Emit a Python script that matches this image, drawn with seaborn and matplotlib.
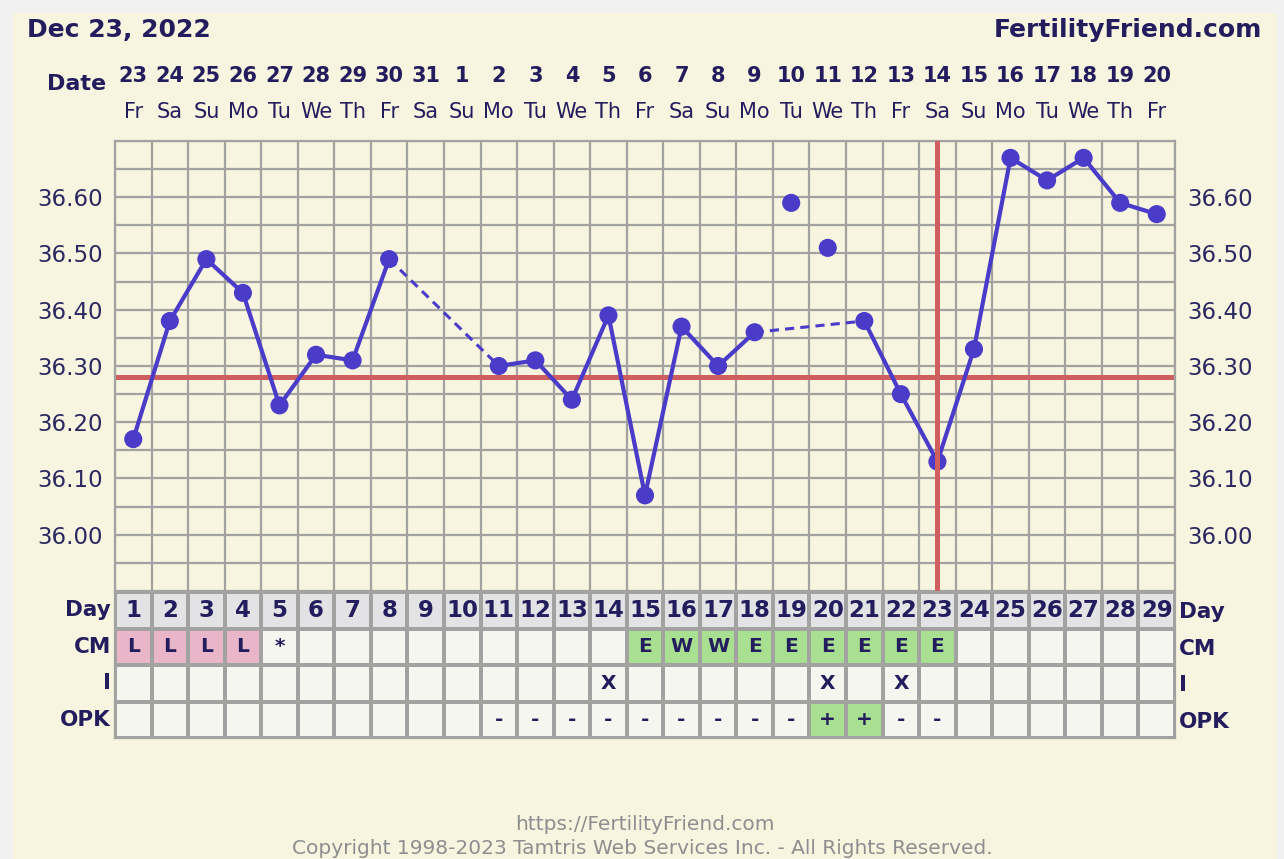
import numpy as np
import pandas as pd
import matplotlib
matplotlib.use("Agg")
import matplotlib.pyplot as plt
from matplotlib.colors import ListedColormap
from matplotlib.patches import Rectangle
from matplotlib.ticker import MultipleLocator, FixedLocator
import seaborn as sns

plt.rcParams['font.family'] = ['DejaVu Sans']

# ---- chart data ----
days = list(range(1, 30))
temps = [36.17, 36.38, 36.49, 36.43, 36.23, 36.32, 36.31, 36.49, np.nan, np.nan,
         36.30, 36.31, 36.24, 36.39, 36.07, 36.37, 36.30, 36.36, 36.59, 36.51,
         36.38, 36.25, 36.13, 36.33, 36.67, 36.63, 36.67, 36.59, 36.57]
excluded = [19, 20]
coverline = 36.28
ovulation_day = 23

date_nums = [23, 24, 25, 26, 27, 28, 29, 30, 31, 1, 2, 3, 4, 5, 6, 7, 8, 9, 10,
             11, 12, 13, 14, 15, 16, 17, 18, 19, 20]
weekdays = ['Fr', 'Sa', 'Su', 'Mo', 'Tu', 'We', 'Th'] * 4 + ['Fr']

cm_row = ['L', 'L', 'L', 'L', '*', '', '', '', '', '', '', '', '', '', 'E', 'W', 'W',
          'E', 'E', 'E', 'E', 'E', 'E', '', '', '', '', '', '']
i_row = [''] * 13 + ['X'] + [''] * 5 + ['X', '', 'X'] + [''] * 7
opk_row = [''] * 10 + ['-'] * 9 + ['+', '+', '-', '-'] + [''] * 6
row_names = ['Day', 'CM', 'I', 'OPK']

# ---- colours ----
navy = '#231d5e'
blue = '#4a3cc8'
red = '#cf5e5e'
grid_c = '#a2a2a0'
cream = '#f7f4df'

W, H = 1284, 859
fig = plt.figure(figsize=(W / 100, H / 100), dpi=100, facecolor='#f1f1f1')
fig.add_artist(Rectangle((13 / W, 0), (1277 - 13) / W, 1 - 13 / H,
                         transform=fig.transFigure, facecolor=cream,
                         edgecolor='none', zorder=-10))

# ---- temperature panel ----
ax = fig.add_axes([115 / W, 1 - 591 / H, 1060 / W, 450 / H])
ax.set_facecolor(cream)

valid = [(d, t) for d, t in zip(days, temps) if not np.isnan(t) and d not in excluded]
rows = []
for k in range(len(valid) - 1):
    (d0, t0), (d1, t1) = valid[k], valid[k + 1]
    kind = 'solid' if d1 - d0 == 1 else 'dashed'
    rows.append((k, kind, d0, t0))
    rows.append((k, kind, d1, t1))
seg = pd.DataFrame(rows, columns=['seg', 'kind', 'day', 'temp'])

ax.axhline(coverline, color=red, lw=3.6, zorder=2)
sns.lineplot(data=seg[seg.kind == 'solid'], x='day', y='temp', units='seg',
             estimator=None, sort=False, color=blue, lw=3, ax=ax, zorder=3)
sns.lineplot(data=seg[seg.kind == 'dashed'], x='day', y='temp', units='seg',
             estimator=None, sort=False, color=blue, lw=2.2,
             linestyle=(0, (3, 2)), ax=ax, zorder=3)
pts = pd.DataFrame({'day': days, 'temp': temps}).dropna()
sns.scatterplot(data=pts, x='day', y='temp', s=170, color=blue,
                edgecolor='none', ax=ax, zorder=4)
ax.axvline(ovulation_day, color=red, lw=3.6, zorder=5)

ax.set_xlim(0.5, 29.5)
ax.set_ylim(35.90, 36.70)
ax.xaxis.set_major_locator(FixedLocator([]))
ax.xaxis.set_minor_locator(MultipleLocator(1, offset=0.5))
ax.yaxis.set_major_locator(FixedLocator(np.arange(36.0, 36.61, 0.1)))
ax.yaxis.set_major_formatter(plt.FuncFormatter(lambda v, p: f'{v:.2f}'))
ax.yaxis.set_minor_locator(MultipleLocator(0.05))
ax.grid(which='both', color=grid_c, lw=1.6, zorder=0)
ax.set_axisbelow(True)
ax.tick_params(which='both', length=0)
ax.tick_params(axis='y', labelsize=16.5, labelcolor='#2a2860', pad=9,
               labelright=True)
ax.set_xlabel('')
ax.set_ylabel('')
for s in ax.spines.values():
    s.set_color(grid_c)
    s.set_linewidth(1.6)
ax.spines['bottom'].set_visible(False)

# date header
for d, num, wd in zip(days, date_nums, weekdays):
    ax.text(d, 1.144, str(num), transform=ax.get_xaxis_transform(), ha='center',
            va='center', fontsize=15, fontweight='bold', color=navy)
    ax.text(d, 1.064, wd, transform=ax.get_xaxis_transform(), ha='center',
            va='center', fontsize=15, color=navy)

fig.text(106 / W, 1 - 84 / H, 'Date', ha='right', va='center', fontsize=16,
         fontweight='bold', color=navy)
fig.text(27 / W, 1 - 30 / H, 'Dec 23, 2022', ha='left', va='center',
         fontsize=18, fontweight='bold', color=navy)
fig.text(1262 / W, 1 - 30 / H, 'FertilityFriend.com', ha='right', va='center',
         fontsize=18, fontweight='bold', color=navy)

# ---- chart table ----
tab = fig.add_axes([115 / W, 1 - 738 / H, 1060 / W, 146 / H])


def cell_code(txt, row):
    if row == 'cm':
        return 2 if txt == 'L' else (3 if txt in ('E', 'W') else 0)
    if row == 'opk':
        return 3 if txt == '+' else 0
    return 0


codes = np.array([[1] * len(days),
                  [cell_code(t, 'cm') for t in cm_row],
                  [cell_code(t, 'i') for t in i_row],
                  [cell_code(t, 'opk') for t in opk_row]])
labels = np.array([[str(d) for d in days], cm_row, i_row, opk_row], dtype=object)

cmap = ListedColormap(['#f6f6f1', '#e3e3e5', '#e8b6c8', '#a9df90'])
sns.heatmap(codes, cmap=cmap, vmin=-0.5, vmax=3.5, annot=labels, fmt='',
            cbar=False, linewidths=1.6, linecolor=grid_c, xticklabels=False,
            yticklabels=row_names, ax=tab,
            annot_kws={'fontsize': 14.5, 'fontweight': 'bold', 'color': navy})
for t in tab.texts:
    if t.get_position()[1] < 1:
        t.set_fontsize(16.5)
tab.tick_params(axis='y', length=0, labelleft=True, labelright=True, pad=3,
                labelsize=15.5, labelcolor=navy)
for tk in tab.yaxis.get_major_ticks():
    tk.label1.set_fontweight('bold')
    tk.label2.set_fontweight('bold')
    tk.label1.set_rotation(0)
    tk.label2.set_rotation(0)
for s in tab.spines.values():
    s.set_visible(True)
    s.set_color(grid_c)
    s.set_linewidth(1.6)

# ---- footer ----
fig.text(645 / W, 1 - 825 / H, 'https://FertilityFriend.com', ha='center',
         va='center', fontsize=14.5, color='#8e8e8e')
fig.text(642 / W, 1 - 858 / H,
         'Copyright 1998-2023 Tamtris Web Services Inc. - All Rights Reserved.',
         ha='center', va='bottom', fontsize=14.5, color='#8e8e8e')

fig.savefig('out.png', dpi=100, facecolor=fig.get_facecolor())
